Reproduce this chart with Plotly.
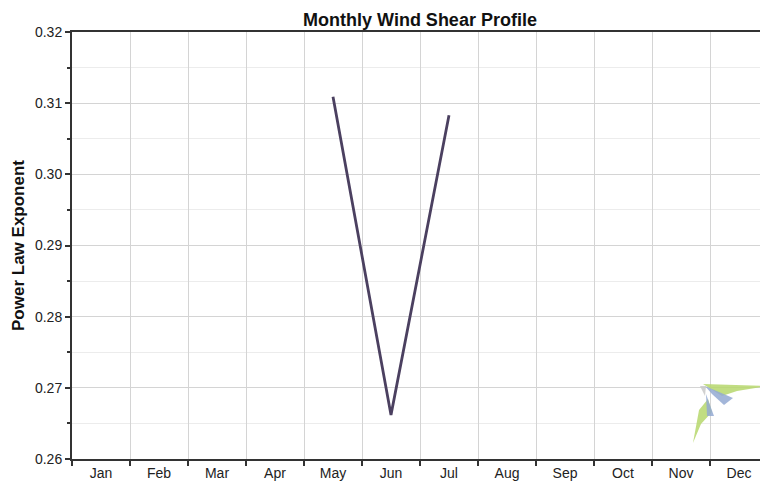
import plotly.graph_objects as go

months = ["Jan", "Feb", "Mar", "Apr", "May", "Jun", "Jul", "Aug", "Sep", "Oct", "Nov", "Dec"]
exponent = [None, None, None, None, 0.3109, 0.2662, 0.3083, None, None, None, None, None]
y_ticks = [0.26, 0.27, 0.28, 0.29, 0.30, 0.31, 0.32]

# page body has an 8px margin, so the figure is shrunk by that amount
OFF = 8
W, H = 768 - OFF, 481 - OFF
L, R, T, B = 72 - OFF, 0, 32 - OFF, 22
pw, ph = W - L - R, H - T - B

def px(x, y):
    # page pixel -> paper coordinates
    return (x - 72) / pw, (459 - y) / ph

def poly(pts):
    conv = [px(x, y) for x, y in pts]
    return "M " + " L ".join(f"{a:.4f},{b:.4f}" for a, b in conv) + " Z"

fig = go.Figure()
fig.add_trace(go.Scatter(
    x=months, y=exponent, mode="lines",
    line=dict(color="#4b4060", width=2.8),
    connectgaps=False, showlegend=False, hoverinfo="x+y"))

logo = [
    ([(703, 384), (767, 386), (737, 391), (722, 396)], "#b6d76c"),
    ([(705, 386), (733, 398), (724, 405), (712, 394)], "#93a9d2"),
    ([(699, 410), (708, 399), (712, 412), (701, 424), (693, 443)], "#b6d76c"),
    ([(706, 394), (714, 416), (707, 416)], "#93a9d2"),
    ([(700, 386), (706, 386), (705, 396)], "#c9c9c9"),
]
shapes = [dict(type="path", xref="paper", yref="paper", path=poly(p),
               fillcolor=c, line=dict(width=0), opacity=0.85, layer="above")
          for p, c in logo]

fig.update_layout(
    width=W, height=H,
    margin=dict(l=L, r=R, t=T, b=B, autoexpand=False),
    paper_bgcolor="white", plot_bgcolor="white",
    font=dict(family="Liberation Sans, Arial, sans-serif", size=14, color="#222222"),
    title=dict(text="<b>Monthly Wind Shear Profile</b>", x=(420 - OFF) / W, xanchor="center",
               y=1 - (20 - OFF) / H, yanchor="middle", font=dict(size=18, color="#111111")),
    shapes=shapes,
    xaxis=dict(
        type="category", categoryorder="array", categoryarray=months,
        range=[-0.5, 11.5], tickson="boundaries", automargin=False,
        showgrid=True, gridcolor="#d4d4d4", gridwidth=1,
        showline=True, linecolor="#333333", linewidth=2, mirror=True,
        ticks="outside", ticklen=5, tickcolor="#333333", tickwidth=1.5,
        tickfont=dict(size=14, color="#222222"), zeroline=False, fixedrange=True),
    yaxis=dict(
        range=[0.26, 0.32], tickvals=y_ticks, tickformat=".2f", automargin=False,
        showgrid=True, gridcolor="#d4d4d4", gridwidth=1,
        showline=True, linecolor="#333333", linewidth=2,
        ticks="outside", ticklen=5, tickcolor="#333333", tickwidth=1.5,
        tickfont=dict(size=14, color="#222222"), zeroline=False,
        minor=dict(dtick=0.005, showgrid=True, gridcolor="#ececec", ticks="outside",
                   ticklen=3, tickcolor="#333333"),
        title=dict(text="<b>Power Law Exponent</b>", font=dict(size=17, color="#111111"), standoff=6)),
)

fig.write_html("out.html")
